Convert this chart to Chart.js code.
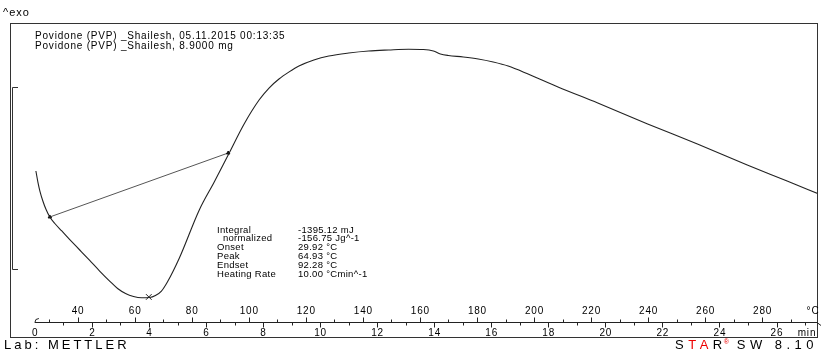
<!DOCTYPE html>
<html>
<head>
<meta charset="utf-8">
<script src="https://cdn.jsdelivr.net/npm/chart.js@4.4.0/dist/chart.umd.min.js"></script>
<style>
  body { margin: 0; background: #fff; }
  canvas { display: block; }
</style>
</head>
<body>
<canvas id="dsc" width="823" height="351"></canvas>
<script>
// DSC curve, time in min, heat flow in mW
const timeMin = [0.035, 0.105, 0.175, 0.279, 0.384, 0.524, 0.699, 0.943, 1.222, 1.572,
  1.921, 2.270, 2.620, 2.899, 3.178, 3.458, 3.737, 4.017, 4.226, 4.436, 4.645, 5.065,
  5.763, 6.287, 6.776, 7.335, 7.859, 8.208, 8.557, 8.907, 9.256, 9.780,
  10.304, 11.002, 11.701, 12.400, 13.098, 13.622, 13.971, 14.216, 14.495, 15.019,
  15.543, 16.067, 16.591, 17.290, 18.338, 19.734, 21.481, 23.227, 24.974, 26.371, 27.489];
const heatFlow = [1.824, 1.703, 1.604, 1.495, 1.407, 1.319, 1.247, 1.165, 1.071, 0.956,
  0.841, 0.725, 0.615, 0.533, 0.478, 0.445, 0.431, 0.434, 0.456, 0.505, 0.604, 0.868,
  1.396, 1.703, 2.000, 2.341, 2.604, 2.736, 2.835, 2.912, 2.978, 3.044,
  3.088, 3.121, 3.143, 3.154, 3.162, 3.159, 3.143, 3.110, 3.093, 3.077,
  3.055, 3.022, 2.978, 2.890, 2.747, 2.571, 2.341, 2.121, 1.890, 1.714, 1.571];

// integration baseline and peak
const baselineTime = [0.524, 6.776];
const baselineFlow = [1.319, 2.022];
const peakTime = [3.993];
const peakFlow = [0.44];

// axis ticks
const timeTicks = [0, 2, 4, 6, 8, 10, 12, 14, 16, 18, 20, 22, 24, 26];
const tempTicks = [40, 60, 80, 100, 120, 140, 160, 180, 200, 220, 240, 260, 280];
const startTemp = 25;   // °C at 0 min
const heatingRate = 10; // °C/min
const scaleBar = [0.747, 2.747]; // 2 mW bar

const resultLabels = ['Integral', '  normalized', 'Onset', 'Peak', 'Endset', 'Heating Rate'];
const resultValues = ['-1395.12 mJ', '-156.75 Jg^-1', '29.92 °C', '64.93 °C', '92.28 °C', '10.00 °Cmin^-1'];

const FONT = '"Liberation Sans", Arial, sans-serif';

function tempToTime(T) {
  return (T - startTemp) / heatingRate;
}

const decorPlugin = {
  id: 'decor',
  afterDraw(chart) {
    const ctx = chart.ctx;
    const xs = chart.scales.x;
    const ys = chart.scales.y;
    const area = chart.chartArea;
    ctx.save();

    // frame
    ctx.strokeStyle = '#333';
    ctx.lineWidth = 1;
    ctx.strokeRect(area.left + 0.5, area.top + 0.5, area.right - area.left - 1, area.bottom - area.top);

    // scale bar on the left
    const b0 = Math.round(ys.getPixelForValue(scaleBar[0])) + 0.5;
    const b1 = Math.round(ys.getPixelForValue(scaleBar[1])) + 0.5;
    ctx.beginPath();
    ctx.moveTo(18, b1); ctx.lineTo(12.5, b1); ctx.lineTo(12.5, b0); ctx.lineTo(18, b0);
    ctx.stroke();

    // combined time / temperature axis
    const axisY = 322.5;
    const x0 = xs.getPixelForValue(0);
    ctx.strokeStyle = '#222';
    ctx.beginPath();
    ctx.moveTo(x0, axisY); ctx.lineTo(817, axisY); ctx.lineTo(821, axisY + 3);
    ctx.moveTo(x0, axisY); ctx.lineTo(x0 + 1, axisY - 3); ctx.lineTo(x0 + 4, axisY - 4);
    ctx.stroke();

    ctx.beginPath();
    for (let t = 1; t <= 27; t++) {
      const px = Math.round(xs.getPixelForValue(t)) + 0.5;
      const len = t % 2 === 0 ? 5 : 3;
      ctx.moveTo(px, axisY); ctx.lineTo(px, axisY + len);
    }
    for (let T = 30; T <= 290; T += 10) {
      const px = Math.round(xs.getPixelForValue(tempToTime(T))) + 0.5;
      const len = T % 20 === 0 ? 5 : 3;
      ctx.moveTo(px, axisY); ctx.lineTo(px, axisY - len);
    }
    ctx.stroke();

    ctx.fillStyle = '#000';
    ctx.font = '10px ' + FONT;
    ctx.letterSpacing = '0.8px';
    ctx.textAlign = 'center';
    ctx.textBaseline = 'middle';
    tempTicks.forEach(T => ctx.fillText(String(T), xs.getPixelForValue(tempToTime(T)) + 0.4, 311));
    timeTicks.forEach(t => ctx.fillText(String(t), xs.getPixelForValue(t) + 0.4, 333));
    ctx.fillText('°C', 813, 311);
    ctx.fillText('min', 807, 333);

    // header texts
    ctx.textAlign = 'left';
    ctx.font = '11px ' + FONT;
    ctx.letterSpacing = '1px';
    ctx.fillText('^exo', 3, 13);
    ctx.font = '10px ' + FONT;
    ctx.letterSpacing = '0.8px';
    ctx.fillText('Povidone (PVP) _Shailesh, 05.11.2015 00:13:35', 35, 36);
    ctx.fillText('Povidone (PVP) _Shailesh, 8.9000 mg', 35, 46);

    // evaluation results
    ctx.font = '9.5px ' + FONT;
    ctx.letterSpacing = '0.3px';
    resultLabels.forEach((s, i) => {
      ctx.fillText(s, 217, 230 + i * 8.8);
      ctx.fillText(resultValues[i], 298, 230 + i * 8.8);
    });

    // footer
    ctx.font = '13px ' + FONT;
    ctx.letterSpacing = '3px';
    ctx.fillText('Lab: METTLER', 4, 345);

    ctx.letterSpacing = '4.5px';
    const parts = [['S', '#000'], ['TA', '#e00'], ['R', '#000']];
    const tail = 'SW 8.10';
    let x = 675;
    parts.forEach(p => {
      ctx.fillStyle = p[1];
      ctx.fillText(p[0], x, 345);
      x += ctx.measureText(p[0]).width;
    });
    ctx.fillStyle = '#e00';
    ctx.font = '7px ' + FONT;
    ctx.letterSpacing = '0px';
    ctx.fillText('®', x - 3, 342);
    x += 10;
    ctx.fillStyle = '#000';
    ctx.font = '13px ' + FONT;
    ctx.letterSpacing = '4.5px';
    ctx.fillText(tail, x, 345);

    ctx.restore();
  }
};

new Chart(document.getElementById('dsc'), {
  type: 'line',
  data: {
    datasets: [
      {
        data: timeMin.map((t, i) => ({ x: t, y: heatFlow[i] })),
        borderColor: '#222',
        borderWidth: 1.1,
        pointRadius: 0,
        cubicInterpolationMode: 'monotone'
      },
      {
        data: baselineTime.map((t, i) => ({ x: t, y: baselineFlow[i] })),
        borderColor: '#555',
        borderWidth: 1,
        pointStyle: 'triangle',
        pointRadius: 2,
        pointBackgroundColor: '#111',
        pointBorderColor: '#111'
      },
      {
        data: peakTime.map((t, i) => ({ x: t, y: peakFlow[i] })),
        showLine: false,
        pointStyle: 'crossRot',
        pointRadius: 4,
        pointBorderColor: '#222',
        pointBorderWidth: 1
      }
    ]
  },
  options: {
    responsive: false,
    devicePixelRatio: 1,
    animation: false,
    layout: { padding: { left: 10, right: 2, top: 23, bottom: 14 } },
    plugins: { legend: { display: false }, tooltip: { enabled: false } },
    scales: {
      x: { type: 'linear', display: false, min: -0.873, max: 27.454 },
      y: { display: false, min: 0, max: 3.4505 }
    }
  },
  plugins: [decorPlugin]
});
</script>
</body>
</html>
